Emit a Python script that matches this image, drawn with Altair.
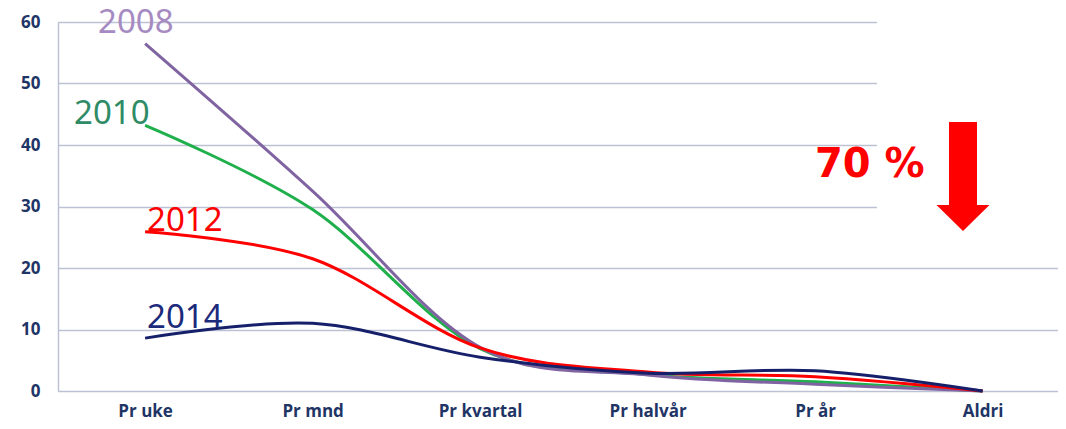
import altair as alt
import pandas as pd

categories = ["Pr uke", "Pr mnd", "Pr kvartal", "Pr halvår", "Pr år", "Aldri"]
years = ["2008", "2010", "2012", "2014"]
v2008 = [56.5, 32.5, 7.1, 2.6, 1.1, 0.0]
v2010 = [43.2, 29.5, 6.9, 2.7, 1.5, 0.0]
v2012 = [25.9, 21.5, 7.0, 3.1, 2.3, 0.0]
v2014 = [8.6, 11.0, 5.5, 2.9, 3.3, 0.0]
y_ticks = [0, 10, 20, 30, 40, 50, 60]

line_colors = {"2008": "#8064a2", "2010": "#1fb04c", "2012": "#ff0000", "2014": "#16206a"}
label_colors = {"2008": "#a68bc2", "2010": "#2e8b66", "2012": "#ff0000", "2014": "#1b2a7a"}
label_offsets = {"2008": (-47, -11), "2010": (-71, -1), "2012": (2, -1), "2014": (2, -10)}
draw_order = ["2010", "2008", "2012", "2014"]

series = {"2008": v2008, "2010": v2010, "2012": v2012, "2014": v2014}
rows = []
for yr in years:
    for i, (c, v) in enumerate(zip(categories, series[yr])):
        rows.append({"year": yr, "cat": c, "idx": i, "value": v})
df = pd.DataFrame(rows)

W, H = 1000, 369

label_expr = "[" + ",".join("'" + c + "'" for c in categories) + "][datum.value]"

xenc = alt.X("idx:Q",
             scale=alt.Scale(domain=[-0.52, 5.45], nice=False, zero=False),
             axis=alt.Axis(title=None, values=list(range(len(categories))), labelExpr=label_expr,
                           ticks=False, domain=False, grid=False,
                           labelPadding=12, labelFontSize=17, labelFont="Open Sans",
                           labelFontWeight="bold", labelColor="#1f3566", labelAngle=0,
                           labelFlush=False, labelOverlap=False))
yenc = alt.Y("value:Q", scale=alt.Scale(domain=[0, 60], nice=False),
             axis=alt.Axis(title=None, values=y_ticks, ticks=False, domain=True,
                           domainColor="#bcc2d4", domainWidth=1.5,
                           grid=True, gridColor="#bcc2d4", gridWidth=1.5,
                           labelPadding=18, labelFontSize=17, labelFont="Open Sans",
                           labelFontWeight="bold", labelColor="#1f3566"))

base = alt.Chart(df)

layers = []
# white box hiding top-right gridlines (as in the original slide)
layers.append(
    base.mark_rect(color="white").encode(
        x=alt.value(819), x2=alt.value(W + 10), y=alt.value(-20), y2=alt.value(193)
    ).transform_filter(alt.datum.cat == "Aldri").transform_filter(alt.datum.year == "2008")
)
for yr in draw_order:
    layers.append(
        base.transform_filter(alt.datum.year == yr)
        .mark_line(interpolate="cardinal", strokeWidth=3, color=line_colors[yr])
        .encode(x=xenc, y=yenc)
    )
for yr in years:
    dx, dy = label_offsets[yr]
    layers.append(
        base.transform_filter(alt.datum.year == yr)
        .transform_filter(alt.datum.cat == "Pr uke")
        .mark_text(align="left", baseline="alphabetic", dx=dx, dy=dy, fontSize=33,
                   font="Noto Sans", color=label_colors[yr])
        .encode(x=xenc, y=yenc, text="year:N")
    )

# annotation "70 %" and arrow
annot = pd.DataFrame({"txt": ["70 %"]})
layers.append(
    alt.Chart(annot).mark_text(align="left", baseline="alphabetic", fontSize=40,
                                font="DejaVu Sans", fontWeight="bold", color="#ff0000")
    .encode(x=alt.value(757), y=alt.value(155), text="txt:N")
)
arrow_path = "M-0.257,-1 L0.257,-1 L0.257,0.523 L0.486,0.523 L0,1 L-0.486,0.523 L-0.257,0.523 Z"
layers.append(
    alt.Chart(annot).mark_point(shape=arrow_path, filled=True, size=11881, color="#ff0000",
                                opacity=1, strokeWidth=0)
    .encode(x=alt.value(905), y=alt.value(154.5))
)

chart = alt.layer(*layers).properties(
    width=W, height=H,
    autosize=alt.AutoSizeParams(type="none"),
    padding={"left": 50, "top": 14, "right": 0, "bottom": 30},
).configure_view(stroke=None).configure(background="white")

chart.save("out.html", embed_options={"renderer": "svg", "actions": False})
